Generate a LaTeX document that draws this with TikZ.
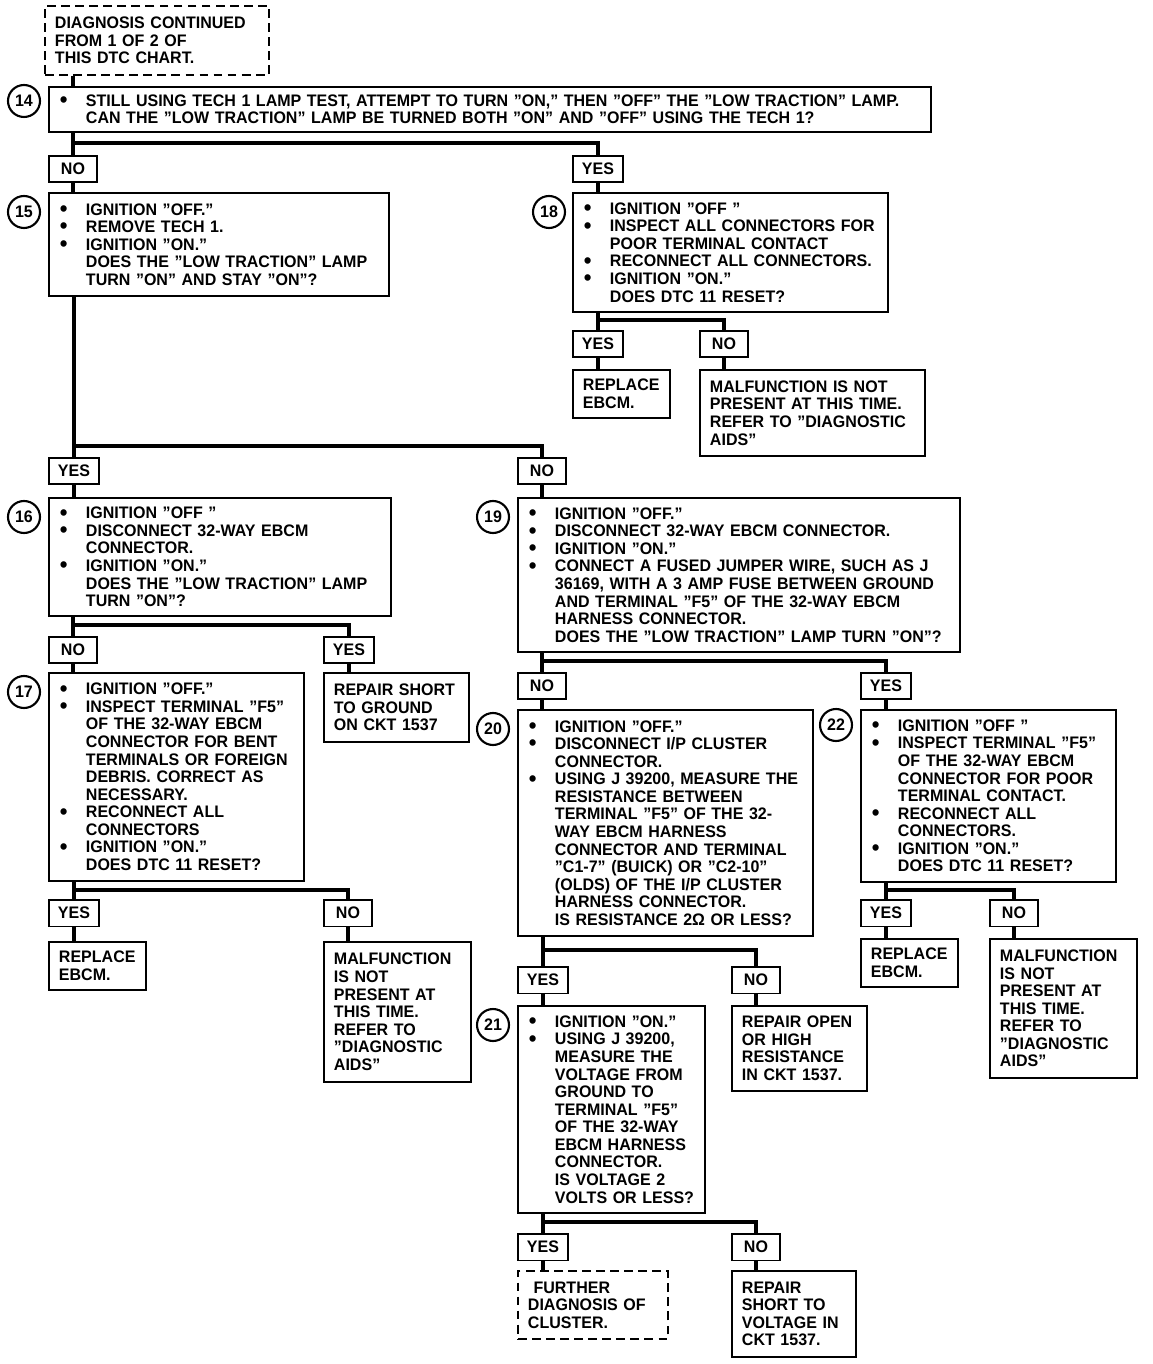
\documentclass[tikz,border=0pt]{standalone}
\usepackage{fontspec}
\setmainfont{Liberation Sans}[FakeStretch=0.96]
\usepackage{tikz}
\usetikzlibrary{positioning, calc}

\newcommand{\bt}{\makebox[0.54cm][l]{\hspace{0.02cm}\raisebox{-0.7pt}{\smash{\fontsize{13}{10}\selectfont\textbullet}}}}
\newcommand{\nb}{\makebox[0.54cm][l]{}}

\begin{document}
\begin{tikzpicture}[x=0.02cm, y=-0.02cm,
        every node/.style={font=\fontsize{9.5}{10}\selectfont\bfseries},
        block/.style={rectangle, draw, line width=1.1pt, anchor=north west, align=left, inner xsep=0.2cm, inner ysep=0pt},
        dashblock/.style={block, dash pattern=on 5pt off 3pt},
        choice/.style={rectangle, draw, line width=1.1pt, anchor=north west, minimum width=0.96cm, minimum height=0.53cm, inner xsep=0.18cm, inner ysep=0pt},
        num/.style={circle, draw, line width=1.2pt, minimum size=0.64cm, inner sep=0pt},
        line/.style={draw, line width=2.8pt}]

        \useasboundingbox (0,0) rectangle (1152,1364);

        % top of the chart
        \node [dashblock, text width=4.08cm, minimum height=1.38cm] (start) at (44,5) {DIAGNOSIS CONTINUED\\FROM 1 OF 2 OF\\THIS DTC CHART.};
        \node [block, text width=17.24cm, minimum height=0.9cm] (b14) at (48,86) {\bt STILL USING TECH 1 LAMP TEST, ATTEMPT TO TURN "ON," THEN "OFF" THE "LOW TRACTION" LAMP.\\\nb CAN THE "LOW TRACTION" LAMP BE TURNED BOTH "ON" AND "OFF" USING THE TECH 1?};
        \node [num] (n14) at (24,101) {14};
        \node [choice] (no14) at (48,155) {NO};
        \node [choice] (yes14) at (572,155) {YES};

        % step 15 and 18
        \node [block, text width=6.4cm, minimum height=2.06cm] (b15) at (48,192) {\bt IGNITION "OFF."\\\bt REMOVE TECH 1.\\\bt IGNITION "ON."\\\nb DOES THE "LOW TRACTION" LAMP\\\nb TURN "ON" AND STAY "ON"?};
        \node [num] (n15) at (24,212) {15};
        \node [block, text width=5.9cm, minimum height=2.38cm] (b18) at (572,192) {\bt IGNITION "OFF "\\\bt INSPECT ALL CONNECTORS FOR\\\nb POOR TERMINAL CONTACT\\\bt RECONNECT ALL CONNECTORS.\\\bt IGNITION "ON."\\\nb DOES DTC 11 RESET?};
        \node [num] (n18) at (549,212) {18};
        \node [choice] (yes18) at (572,330) {YES};
        \node [choice] (no18) at (699,330) {NO};
        \node [block, text width=1.55cm, minimum height=0.96cm] (r18) at (572,369) {REPLACE\\EBCM.};
        \node [block, text width=4.1cm, minimum height=1.72cm] (m18) at (699,369) {MALFUNCTION IS NOT\\PRESENT AT THIS TIME.\\REFER TO "DIAGNOSTIC\\AIDS"};

        % step 16 and 19
        \node [choice] (yes15) at (48,457) {YES};
        \node [choice] (no15) at (517,457) {NO};
        \node [block, text width=6.44cm, minimum height=2.36cm] (b16) at (48,497) {\bt IGNITION "OFF "\\\bt DISCONNECT 32-WAY EBCM\\\nb CONNECTOR.\\\bt IGNITION "ON."\\\nb DOES THE "LOW TRACTION" LAMP\\\nb TURN "ON"?};
        \node [num] (n16) at (24,517) {16};
        \node [block, text width=8.45cm, minimum height=3.08cm] (b19) at (517,497) {\bt IGNITION "OFF."\\\bt DISCONNECT 32-WAY EBCM CONNECTOR.\\\bt IGNITION "ON."\\\bt CONNECT A FUSED JUMPER WIRE, SUCH AS J\\\nb 36169, WITH A 3 AMP FUSE BETWEEN GROUND\\\nb AND TERMINAL "F5" OF THE 32-WAY EBCM\\\nb HARNESS CONNECTOR.\\\nb DOES THE "LOW TRACTION" LAMP TURN "ON"?};
        \node [num] (n19) at (493,517) {19};

        % step 17
        \node [choice] (no16) at (48,636) {NO};
        \node [choice] (yes16) at (323,636) {YES};
        \node [block, text width=4.7cm, minimum height=4.16cm] (b17) at (48,672) {\bt IGNITION "OFF."\\\bt INSPECT TERMINAL "F5"\\\nb OF THE 32-WAY EBCM\\\nb CONNECTOR FOR BENT\\\nb TERMINALS OR FOREIGN\\\nb DEBRIS. CORRECT AS\\\nb NECESSARY.\\\bt RECONNECT ALL\\\nb CONNECTORS\\\bt IGNITION "ON."\\\nb DOES DTC 11 RESET?};
        \node [num] (n17) at (24,692) {17};
        \node [block, text width=2.5cm, minimum height=1.38cm] (rs16) at (323,672) {REPAIR SHORT\\TO GROUND\\ON CKT 1537};
        \node [choice] (yes17) at (48,899) {YES};
        \node [choice] (no17) at (323,899) {NO};
        \node [block, text width=1.55cm, minimum height=0.96cm] (r17) at (48,941) {REPLACE\\EBCM.};
        \node [block, text width=2.54cm, minimum height=2.8cm] (m17) at (323,941) {MALFUNCTION\\IS NOT\\PRESENT AT\\THIS TIME.\\REFER TO\\"DIAGNOSTIC\\AIDS"};

        % step 20 and 22
        \node [choice] (no19) at (517,672) {NO};
        \node [choice] (yes19) at (860,672) {YES};
        \node [block, text width=5.5cm, minimum height=4.52cm] (b20) at (517,709) {\bt IGNITION "OFF."\\\bt DISCONNECT I/P CLUSTER\\\nb CONNECTOR.\\\bt USING J 39200, MEASURE THE\\\nb RESISTANCE BETWEEN\\\nb TERMINAL "F5" OF THE 32-\\\nb WAY EBCM HARNESS\\\nb CONNECTOR AND TERMINAL\\\nb "C1-7" (BUICK) OR "C2-10"\\\nb (OLDS) OF THE I/P CLUSTER\\\nb HARNESS CONNECTOR.\\\nb IS RESISTANCE 2Ω OR LESS?};
        \node [num] (n20) at (493,729) {20};
        \node [block, text width=4.7cm, minimum height=3.44cm] (b22) at (860,709) {\bt IGNITION "OFF "\\\bt INSPECT TERMINAL "F5"\\\nb OF THE 32-WAY EBCM\\\nb CONNECTOR FOR POOR\\\nb TERMINAL CONTACT.\\\bt RECONNECT ALL\\\nb CONNECTORS.\\\bt IGNITION "ON."\\\nb DOES DTC 11 RESET?};
        \node [num] (n22) at (836,725) {22};
        \node [choice] (yes22) at (860,899) {YES};
        \node [choice] (no22) at (989,899) {NO};
        \node [block, text width=1.55cm, minimum height=0.96cm] (r22) at (860,938) {REPLACE\\EBCM.};
        \node [block, text width=2.54cm, minimum height=2.78cm] (m22) at (989,938) {MALFUNCTION\\IS NOT\\PRESENT AT\\THIS TIME.\\REFER TO\\"DIAGNOSTIC\\AIDS"};

        % step 21
        \node [choice] (yes20) at (517,966) {YES};
        \node [choice] (no20) at (731,966) {NO};
        \node [block, text width=3.35cm, minimum height=4.14cm] (b21) at (517,1005) {\bt IGNITION "ON."\\\bt USING J 39200,\\\nb MEASURE THE\\\nb VOLTAGE FROM\\\nb GROUND TO\\\nb TERMINAL "F5"\\\nb OF THE 32-WAY\\\nb EBCM HARNESS\\\nb CONNECTOR.\\\nb IS VOLTAGE 2\\\nb VOLTS OR LESS?};
        \node [num] (n21) at (493,1025) {21};
        \node [block, text width=2.3cm, minimum height=1.7cm] (ro20) at (731,1005) {REPAIR OPEN\\OR HIGH\\RESISTANCE\\IN CKT 1537.};
        \node [choice] (yes21) at (517,1233) {YES};
        \node [choice] (no21) at (731,1233) {NO};
        \node [dashblock, text width=2.6cm, minimum height=1.36cm] (f21) at (517,1270) {\ FURTHER\\DIAGNOSIS OF\\CLUSTER.};
        \node [block, text width=2.08cm, minimum height=1.72cm] (rv21) at (731,1270) {REPAIR\\SHORT TO\\VOLTAGE IN\\CKT 1537.};

        % split heights
        \coordinate (s14) at (0,143);
        \coordinate (s18) at (0,320);
        \coordinate (s15) at (0,446);
        \coordinate (s16) at (0,625);
        \coordinate (s17) at (0,890);
        \coordinate (s19) at (0,661);
        \coordinate (s22) at (0,890);
        \coordinate (s20) at (0,950);
        \coordinate (s21) at (0,1222);

        % Paths
        \path [line] (start.south -| no14.north) -- (b14.north -| no14.north);
        \path [line] (b14.south -| no14.north) -- (no14.north);
        \path [line] (s14 -| no14.north) -| (yes14.north);
        \path [line] (no14.south) -- (b15.north -| no14.south);
        \path [line] (yes14.south) -- (b18.north -| yes14.south);

        \path [line] (b18.south -| yes18.north) -- (yes18.north);
        \path [line] (s18 -| yes18.north) -| (no18.north);
        \path [line] (yes18.south) -- (r18.north -| yes18.south);
        \path [line] (no18.south) -- (m18.north -| no18.south);

        \path [line] (b15.south -| yes15.north) -- (yes15.north);
        \path [line] (s15 -| yes15.north) -| (no15.north);
        \path [line] (yes15.south) -- (b16.north -| yes15.south);
        \path [line] (no15.south) -- (b19.north -| no15.south);

        \path [line] (b16.south -| no16.north) -- (no16.north);
        \path [line] (s16 -| no16.north) -| (yes16.north);
        \path [line] (no16.south) -- (b17.north -| no16.south);
        \path [line] (yes16.south) -- (rs16.north -| yes16.south);

        \path [line] (b17.south -| yes17.north) -- (yes17.north);
        \path [line] (s17 -| yes17.north) -| (no17.north);
        \path [line] (yes17.south) -- (r17.north -| yes17.south);
        \path [line] (no17.south) -- (m17.north -| no17.south);

        \path [line] (b19.south -| no19.north) -- (no19.north);
        \path [line] (s19 -| no19.north) -| (yes19.north);
        \path [line] (no19.south) -- (b20.north -| no19.south);
        \path [line] (yes19.south) -- (b22.north -| yes19.south);

        \path [line] (b22.south -| yes22.north) -- (yes22.north);
        \path [line] (s22 -| yes22.north) -| (no22.north);
        \path [line] (yes22.south) -- (r22.north -| yes22.south);
        \path [line] (no22.south) -- (m22.north -| no22.south);

        \path [line] (b20.south -| yes20.north) -- (yes20.north);
        \path [line] (s20 -| yes20.north) -| (no20.north);
        \path [line] (yes20.south) -- (b21.north -| yes20.south);
        \path [line] (no20.south) -- (ro20.north -| no20.south);

        \path [line] (b21.south -| yes21.north) -- (yes21.north);
        \path [line] (s21 -| yes21.north) -| (no21.north);
        \path [line] (yes21.south) -- (f21.north -| yes21.south);
        \path [line] (no21.south) -- (rv21.north -| no21.south);

    \end{tikzpicture}
\end{document}
